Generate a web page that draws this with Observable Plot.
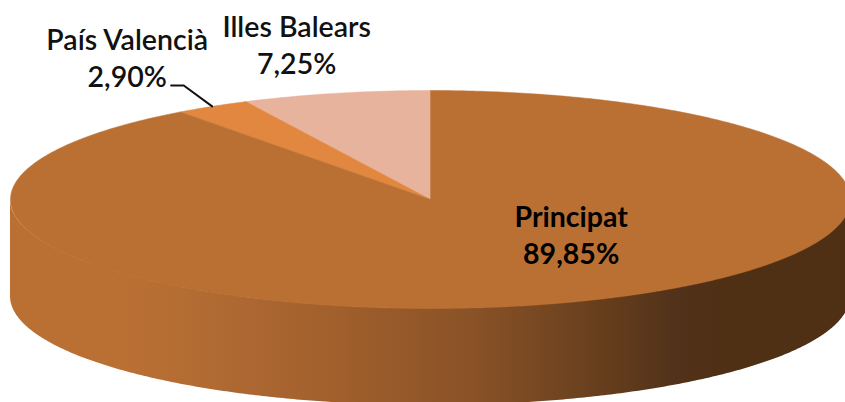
<!DOCTYPE html>
<html>
<head>
<meta charset="utf-8">
<script src="https://cdn.jsdelivr.net/npm/d3@7"></script>
<script src="https://cdn.jsdelivr.net/npm/@observablehq/plot@0.6"></script>
<style>html,body{margin:0;padding:0;background:#fff}svg{display:block}</style>
</head>
<body>
<div id="chart"></div>
<script>
// Data, in drawing order counter-clockwise from twelve o'clock
const names = ["Illes Balears", "País Valencià", "Principat"];
const shares = [7.25, 2.90, 89.85];
const shareLabels = ["7,25%", "2,90%", "89,85%"];
const colors = ["#e8b39c", "#e2873f", "#bb7033"];

// Styling of the rim
const rimStops = [[0, "#bb7033"], [0.14, "#ba7033"], [0.274, "#ad6832"], [0.393, "#a05f2c"], [0.548, "#8a5227"], [0.655, "#714520"], [0.72, "#633c1c"], [0.79, "#52321a"], [0.84, "#4f3015"], [1, "#4f3015"]];
const depth = 0.89;

// Pie geometry in unit-circle data space, tilted by the y scale
const total = d3.sum(shares);
const cum = d3.cumsum(shares);
const angleOf = (s) => (s / total) * 2 * Math.PI;
const polar = (a, r = 1) => ({x: -r * Math.sin(a), y: r * Math.cos(a)});

const slices = names.map((name, i) => {
  const a0 = angleOf(cum[i] - shares[i]);
  const a1 = angleOf(cum[i]);
  const n = Math.max(8, Math.ceil((a1 - a0) * 90));
  const arc = d3.range(n + 1).map((k) => polar(a0 + ((a1 - a0) * k) / n));
  return {name, mid: (a0 + a1) / 2, points: [{x: 0, y: 0}, ...arc, {x: 0, y: 0}]};
});

const rim = d3.range(0, 361).map((k) => {
  const t = Math.PI + (k / 360) * Math.PI;
  return {x: Math.cos(t), y1: Math.sin(t), y2: Math.sin(t) - depth};
});

const rimGradient = () => {
  const defs = d3.create("svg:defs");
  const g = defs.append("linearGradient").attr("id", "rimShade").attr("x1", 0).attr("x2", 1).attr("y1", 0).attr("y2", 0);
  rimStops.forEach(([o, c]) => g.append("stop").attr("offset", o).attr("stop-color", c));
  return defs.node();
};

// Leader from the País Valencià slice out to its label
const vMid = slices[1].mid;
const leader = [polar(vMid, 1), polar(vMid - 0.035, 1.2), polar(vMid - 0.013, 1.214)];

const textOpts = {fontFamily: "Lato", fontSize: 28.5, fontWeight: 600, fill: "#111", lineHeight: 1.3, textAnchor: "middle", lineAnchor: "middle"};
const labelMark = (i, dx, dy, extra = {}) => {
  const p = polar(slices[i].mid);
  return Plot.text([`${names[i]}\n${shareLabels[i]}`], {x: () => p.x, y: () => p.y, text: (d) => d, dx, dy, ...textOpts, ...extra});
};

const chart = Plot.plot({
  width: 845,
  height: 402,
  margin: 0,
  style: {background: "#fff"},
  x: {domain: [-1, 1], range: [10, 850], axis: null},
  y: {domain: [-1, 1], range: [308, 90], axis: null},
  marks: [
    rimGradient,
    Plot.areaY(rim, {x: "x", y1: "y1", y2: "y2", fill: "url(#rimShade)", curve: "linear"}),
    ...slices.map((s, i) => Plot.line(s.points, {x: "x", y: "y", fill: colors[i], stroke: colors[i], strokeWidth: 0.5, curve: "linear"})),
    Plot.line(leader, {x: "x", y: "y", stroke: "#111", strokeWidth: 2, curve: "linear"}),
    labelMark(0, -39, -50),
    labelMark(1, -85, -50),
    labelMark(2, 9, -69, {fontWeight: 700, fill: "#000"})
  ]
});
document.getElementById("chart").append(chart);
</script>
</body>
</html>
